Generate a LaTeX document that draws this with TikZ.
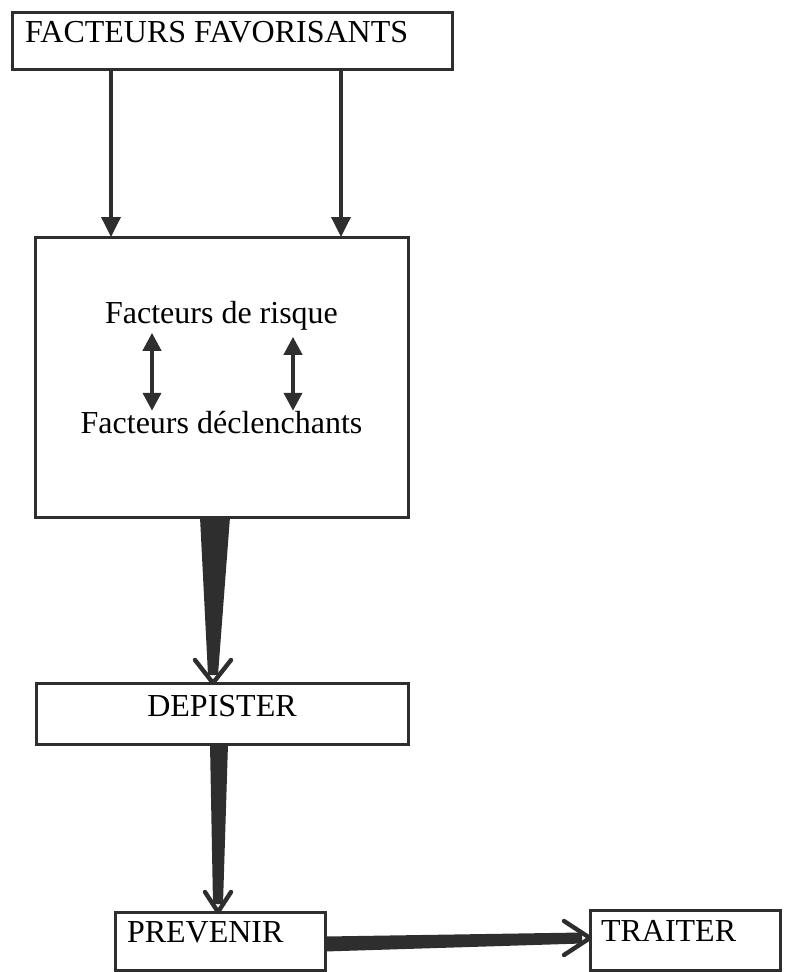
\documentclass[tikz,border=0pt]{standalone}
\usepackage{fontspec}
\setmainfont{Liberation Serif}
\usetikzlibrary{arrows.meta,positioning}
\definecolor{inkgrey}{HTML}{2E2E2E}
\tikzset{
  framebox/.style={
    draw=inkgrey,
    line width=1.5bp,
    inner sep=0pt,
    outer sep=0pt
  },
  boxtext/.style={
    inner sep=0pt,
    outer sep=0pt,
    text=black
  },
  downarrow/.style={
    -{Triangle[length=10bp,width=9.5bp]},
    line width=1.8bp,
    draw=inkgrey
  },
  twoway/.style={
    {Triangle[length=9bp,width=9bp]}-{Triangle[length=9bp,width=9bp]},
    line width=2bp,
    draw=inkgrey
  },
  wedge/.style={
    fill=inkgrey
  },
  barb/.style={
    draw=inkgrey,
    line width=2.2bp,
    line join=round,
    line cap=round
  }
}

\begin{document}
\begin{tikzpicture}[font=\fontsize{16bp}{19bp}\selectfont]
\useasboundingbox (0,0) rectangle (392.5bp,-486bp);

% boxes
\node[framebox, minimum width=220bp, minimum height=28.5bp, anchor=north west] (favor) at (6bp,-6bp) {};
\node[framebox, minimum width=186.5bp, minimum height=140bp, below=84bp of favor.south west, anchor=north west, xshift=11.5bp] (risques) {};
\node[framebox, minimum width=186bp, minimum height=30.5bp, below=83bp of risques.south west, anchor=north west, xshift=0.5bp] (depister) {};
\node[framebox, minimum width=105bp, minimum height=29bp, below=84bp of depister.south west, anchor=north west, xshift=39.5bp] (prevenir) {};
\node[framebox, minimum width=95bp, minimum height=30bp, right=132.5bp of prevenir.north east, anchor=north west, yshift=1bp] (traiter) {};

% texts
\node[boxtext, anchor=base west] (favor-txt) at ([xshift=6.5bp,yshift=-15bp]favor.north west) {FACTEURS FAVORISANTS};
\node[boxtext, anchor=base] (risque-txt) at ([yshift=-43bp]risques.north) {Facteurs de risque};
\node[boxtext, anchor=base] (declen-txt) at ([yshift=-98bp]risques.north) {Facteurs déclenchants};
\node[boxtext, anchor=base] (depister-txt) at ([yshift=-16.5bp]depister.north) {DEPISTER};
\node[boxtext, anchor=base west] (prevenir-txt) at ([xshift=6bp,yshift=-15bp]prevenir.north west) {PREVENIR};
\node[boxtext, anchor=base west] (traiter-txt) at ([xshift=5.5bp,yshift=-15.5bp]traiter.north west) {TRAITER};

% favorisants -> risques
\draw[downarrow] ([xshift=49.5bp]favor.south west) -- ([xshift=49.5bp]favor.south west |- risques.north);
\draw[downarrow] ([xshift=164.5bp]favor.south west) -- ([xshift=164.5bp]favor.south west |- risques.north);

% risque <-> declenchants
\draw[twoway] ([xshift=-34.75bp,yshift=-1.5bp]risque-txt.south) -- ([xshift=-34.75bp]risque-txt.south |- declen-txt.north);
\draw[twoway] ([xshift=35.75bp,yshift=-3.5bp]risque-txt.south) -- ([xshift=35.75bp]risque-txt.south |- declen-txt.north);

% risques -> depister
\coordinate (w1) at ([xshift=-3.25bp]risques.south);
\coordinate (w1tip) at ([xshift=-4.5bp]depister.north);
\fill[wedge] ([xshift=-7.5bp]w1) -- ([xshift=7.5bp]w1) -- ([xshift=2.5bp,yshift=4bp]w1tip) -- ([xshift=-2.5bp,yshift=4bp]w1tip) -- cycle;
\draw[barb] ([shift={(-9bp,11.5bp)}]w1tip) -- (w1tip) -- ([shift={(9bp,11.5bp)}]w1tip);

% depister -> prevenir
\coordinate (w2) at ([xshift=-1.5bp]depister.south);
\coordinate (w2tip) at ([xshift=-1bp]prevenir.north);
\fill[wedge] ([xshift=-4.5bp]w2) -- ([xshift=4.5bp]w2) -- ([xshift=2.5bp,yshift=4bp]w2tip) -- ([xshift=-2.5bp,yshift=4bp]w2tip) -- cycle;
\draw[barb] ([shift={(-6.5bp,10bp)}]w2tip) -- (w2tip) -- ([shift={(6.5bp,10bp)}]w2tip);

% prevenir -> traiter
\coordinate (w3) at ([yshift=-1.5bp]prevenir.east);
\coordinate (w3tip) at ([yshift=1bp]traiter.west);
\fill[wedge] ([yshift=3.75bp]w3) -- ([yshift=-3.75bp]w3) -- ([xshift=-4bp,yshift=-2.75bp]w3tip) -- ([xshift=-4bp,yshift=2.75bp]w3tip) -- cycle;
\draw[barb] ([shift={(-13bp,8.5bp)}]w3tip) -- (w3tip) -- ([shift={(-13bp,-8.5bp)}]w3tip);
\end{tikzpicture}
\end{document}
